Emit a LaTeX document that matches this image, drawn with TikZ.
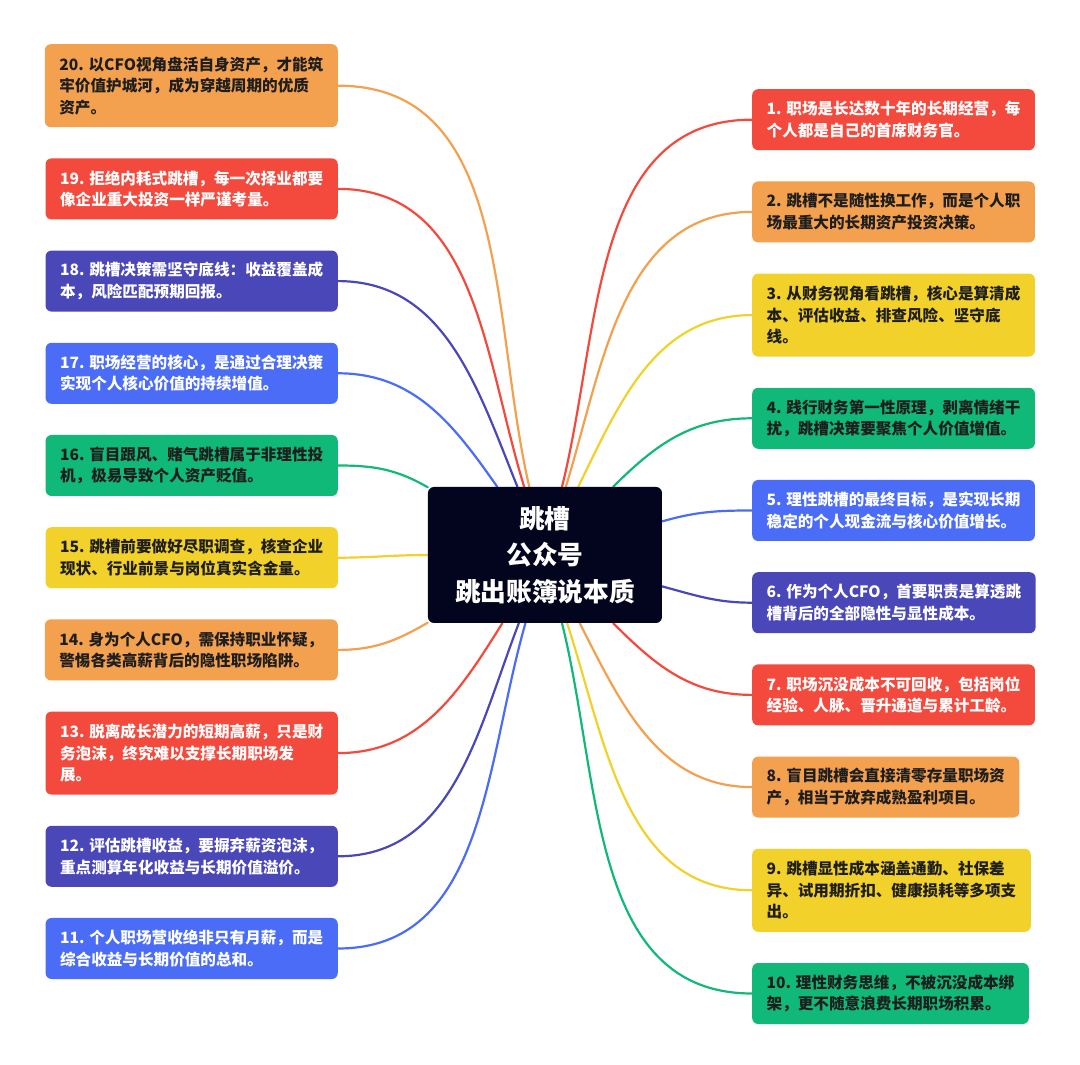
\documentclass[tikz,border=0pt]{standalone}
\usepackage{fontspec}
\setmainfont{Noto Sans CJK SC}
\usetikzlibrary{positioning,backgrounds}
\definecolor{mmred}{HTML}{F44A3E}
\definecolor{mmorange}{HTML}{F3A04F}
\definecolor{mmyellow}{HTML}{F2D12A}
\definecolor{mmgreen}{HTML}{10B978}
\definecolor{mmblue}{HTML}{4A6CF7}
\definecolor{mmindigo}{HTML}{4A47B8}
\definecolor{mmhub}{HTML}{03041E}
\definecolor{mmink}{HTML}{1E1E1E}

\begin{document}
\begin{tikzpicture}[
  x=1pt, y=1pt,
  node distance=30.8pt,
  card/.style={rounded corners=6pt,align=left,inner xsep=14.5pt,inner ysep=0pt,minimum height=61pt,font=\fontsize{15.6}{21.5}\selectfont\bfseries},
  tall/.style={minimum height=83pt},
  red card/.style={card,fill=mmred,text=white},
  orange card/.style={card,fill=mmorange,text=mmink},
  yellow card/.style={card,fill=mmyellow,text=mmink},
  green card/.style={card,fill=mmgreen,text=mmink},
  blue card/.style={card,fill=mmblue,text=white},
  indigo card/.style={card,fill=mmindigo,text=white},
  hub/.style={fill=mmhub,text=white,rounded corners=6pt,align=center,minimum width=234pt,minimum height=136pt,font=\fontsize{25.7}{36.5}\selectfont\bfseries},
  link/.style={line width=2.2pt,line cap=round}
]
\useasboundingbox (-545,555) rectangle (535,-510);

\node[hub] (hub) at (0,0) {跳槽\\公众号\\跳出账簿说本质};

% left column
\node[orange card,tall,anchor=north east] (n20) at (-207,511) {20. 以CFO视角盘活自身资产，才能筑\\牢价值护城河，成为穿越周期的优质\\资产。};
\node[red card,below=of n20.south east,anchor=north east] (n19) {19. 拒绝内耗式跳槽，每一次择业都要\\像企业重大投资一样严谨考量。};
\node[indigo card,below=of n19.south east,anchor=north east] (n18) {18. 跳槽决策需坚守底线：收益覆盖成\\本，风险匹配预期回报。};
\node[blue card,below=of n18.south east,anchor=north east] (n17) {17. 职场经营的核心，是通过合理决策\\实现个人核心价值的持续增值。};
\node[green card,below=of n17.south east,anchor=north east] (n16) {16. 盲目跟风、赌气跳槽属于非理性投\\机，极易导致个人资产贬值。};
\node[yellow card,below=of n16.south east,anchor=north east] (n15) {15. 跳槽前要做好尽职调查，核查企业\\现状、行业前景与岗位真实含金量。};
\node[orange card,below=of n15.south east,anchor=north east] (n14) {14. 身为个人CFO，需保持职业怀疑，\\警惕各类高薪背后的隐性职场陷阱。};
\node[red card,tall,below=of n14.south east,anchor=north east] (n13) {13. 脱离成长潜力的短期高薪，只是财\\务泡沫，终究难以支撑长期职场发\\展。};
\node[indigo card,below=of n13.south east,anchor=north east] (n12) {12. 评估跳槽收益，要摒弃薪资泡沫，\\重点测算年化收益与长期价值溢价。};
\node[blue card,below=of n12.south east,anchor=north east] (n11) {11. 个人职场营收绝非只有月薪，而是\\综合收益与长期价值的总和。};

% right column
\node[red card,anchor=north west] (n1) at (207,466) {1. 职场是长达数十年的长期经营，每\\个人都是自己的首席财务官。};
\node[orange card,below=of n1.south west,anchor=north west] (n2) {2. 跳槽不是随性换工作，而是个人职\\场最重大的长期资产投资决策。};
\node[yellow card,tall,below=of n2.south west,anchor=north west] (n3) {3. 从财务视角看跳槽，核心是算清成\\本、评估收益、排查风险、坚守底\\线。};
\node[green card,below=of n3.south west,anchor=north west] (n4) {4. 践行财务第一性原理，剥离情绪干\\扰，跳槽决策要聚焦个人价值增值。};
\node[blue card,below=of n4.south west,anchor=north west] (n5) {5. 理性跳槽的最终目标，是实现长期\\稳定的个人现金流与核心价值增长。};
\node[indigo card,below=of n5.south west,anchor=north west] (n6) {6. 作为个人CFO，首要职责是算透跳\\槽背后的全部隐性与显性成本。};
\node[red card,below=of n6.south west,anchor=north west] (n7) {7. 职场沉没成本不可回收，包括岗位\\经验、人脉、晋升通道与累计工龄。};
\node[orange card,below=of n7.south west,anchor=north west] (n8) {8. 盲目跳槽会直接清零存量职场资\\产，相当于放弃成熟盈利项目。};
\node[yellow card,tall,below=of n8.south west,anchor=north west] (n9) {9. 跳槽显性成本涵盖通勤、社保差\\异、试用期折扣、健康损耗等多项支\\出。};
\node[green card,below=of n9.south west,anchor=north west] (n10) {10. 理性财务思维，不被沉没成本绑\\架，更不随意浪费长期职场积累。};

% branches
\begin{scope}[on background layer]
\draw[link,mmorange] (hub.103) to[out=103,in=0] (n20.east);
\draw[link,mmred] (hub.107) to[out=107,in=0] (n19.east);
\draw[link,mmindigo] (hub.112) to[out=112,in=0] (n18.east);
\draw[link,mmblue] (hub.125) to[out=125,in=0] (n17.east);
\draw[link,mmgreen] (hub.150) to[out=150,in=0] (n16.east);
\draw[link,mmyellow] (hub.180) to[out=180,in=0] (n15.east);
\draw[link,mmorange] (hub.210) to[out=210,in=0] (n14.east);
\draw[link,mmred] (hub.238) to[out=238,in=0] (n13.east);
\draw[link,mmindigo] (hub.249) to[out=249,in=0] (n12.east);
\draw[link,mmblue] (hub.254) to[out=254,in=0] (n11.east);
\draw[link,mmred] (hub.76) to[out=76,in=180] (n1.west);
\draw[link,mmorange] (hub.73) to[out=73,in=180] (n2.west);
\draw[link,mmyellow] (hub.64) to[out=64,in=180] (n3.west);
\draw[link,mmgreen] (hub.45) to[out=45,in=180] (n4.west);
\draw[link,mmblue] (hub.16) to[out=16,in=180] (n5.west);
\draw[link,mmindigo] (hub.345) to[out=345,in=180] (n6.west);
\draw[link,mmred] (hub.315) to[out=315,in=180] (n7.west);
\draw[link,mmorange] (hub.297) to[out=297,in=180] (n8.west);
\draw[link,mmyellow] (hub.288) to[out=288,in=180] (n9.west);
\draw[link,mmgreen] (hub.284) to[out=284,in=180] (n10.west);
\end{scope}
\end{tikzpicture}
\end{document}
